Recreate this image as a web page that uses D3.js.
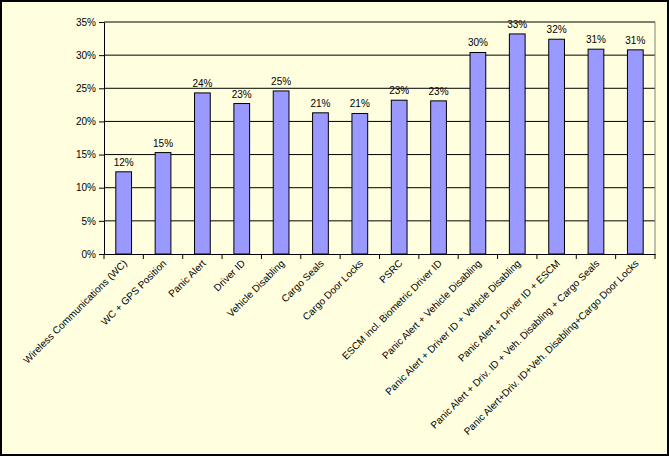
<!DOCTYPE html><html><head><script src="https://d3js.org/d3.v7.min.js"></script>
<style>body{margin:0}svg{display:block}</style></head><body><script>
const categories=["Wireless Communications (WC)","WC + GPS Position","Panic Alert","Driver ID","Vehicle Disabling","Cargo Seals","Cargo Door Locks","PSRC","ESCM incl. Biometric Driver ID","Panic Alert + Vehicle Disabling","Panic Alert + Driver ID + Vehicle Disabling","Panic Alert + Driver ID + ESCM","Panic Alert + Driv. ID + Veh. Disabling + Cargo Seals","Panic Alert+Driv. ID+Veh. Disabling+Cargo Door Locks"];
const values=[0.124,0.153,0.243,0.227,0.246,0.213,0.212,0.232,0.231,0.304,0.332,0.324,0.309,0.308];
const labels=["12%","15%","24%","23%","25%","21%","21%","23%","23%","30%","33%","32%","31%","31%"];
const yTicks=[0,0.05,0.1,0.15,0.2,0.25,0.3,0.35];
const W=669,H=456;
const svg=d3.select("body").append("svg").attr("width",W).attr("height",H).style("font-family","'Liberation Sans',Arial,sans-serif");
svg.append("rect").attr("x",1).attr("y",1).attr("width",W-2).attr("height",H-2).attr("fill","#FFFFE0").attr("stroke","#000").attr("stroke-width",2);
const x=d3.scaleBand().domain(categories).range([104,655]).paddingInner(0.6).paddingOuter(0.3);
const y=d3.scaleLinear().domain([0,0.35]).range([254,22]);
const g=svg.append("g");
g.selectAll(".grid").data(yTicks.slice(1)).join("line").attr("x1",104).attr("x2",655).attr("y1",d=>y(d)).attr("y2",d=>y(d)).attr("stroke","#000");
g.append("line").attr("x1",655).attr("x2",655).attr("y1",y(0.35)).attr("y2",y(0)).attr("stroke","#808080");
const ya=d3.axisLeft(y).tickValues(yTicks).tickFormat(d3.format(".0%")).tickSize(5).tickSizeOuter(0);
g.append("g").attr("transform","translate(104,0)").call(ya).call(s=>{s.select(".domain").attr("stroke","#000");s.selectAll("text").attr("font-size",10).attr("fill","#000").attr("font-family","'Liberation Sans',Arial,sans-serif");});
g.selectAll(".bar").data(values).join("rect").attr("x",(d,i)=>x(categories[i])).attr("width",x.bandwidth()).attr("y",d=>y(d)).attr("height",d=>y(0)-y(d)).attr("fill","#9999FF").attr("stroke","#000");
g.selectAll(".lbl").data(values).join("text").attr("x",(d,i)=>x(categories[i])+x.bandwidth()/2).attr("y",d=>y(d)-6).attr("text-anchor","middle").attr("font-size",10).text((d,i)=>labels[i]);
const xa=d3.axisBottom(x).tickSize(0).tickSizeOuter(0);
const xg=g.append("g").attr("transform","translate(0,254)").call(xa);
xg.select(".domain").attr("stroke","#000");
xg.selectAll("text").attr("font-size",10).attr("fill","#000").attr("font-family","'Liberation Sans',Arial,sans-serif").attr("text-anchor","end").attr("dy",0).attr("transform",function(){const t=d3.select(this.parentNode).attr("transform");return "translate(4,10) rotate(-45)";}).attr("y",0).attr("x",0);
const step=x.step();
g.selectAll(".xt").data(d3.range(categories.length+1)).join("line").attr("x1",d=>104+d*step).attr("x2",d=>104+d*step).attr("y1",254).attr("y2",259).attr("stroke","#000");
</script></body></html>
